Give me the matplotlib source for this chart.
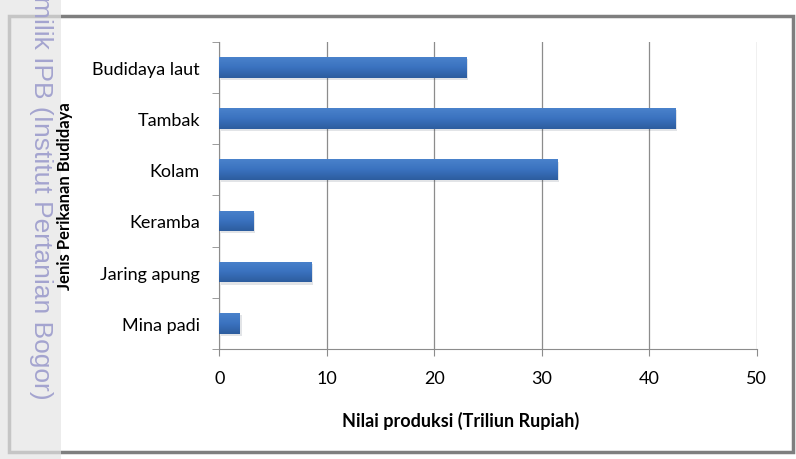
import numpy as np
import matplotlib.pyplot as plt
import matplotlib.patheffects as pe
from matplotlib.colors import LinearSegmentedColormap
from matplotlib.patches import Rectangle

kategori = ['Mina padi', 'Jaring apung', 'Keramba', 'Kolam', 'Tambak', 'Budidaya laut']
nilai = [1.95, 8.6, 3.2, 31.5, 42.5, 23.0]
xticks = [0, 10, 20, 30, 40, 50]

plt.rcParams['font.family'] = ['Lato', 'DejaVu Sans']

fig = plt.figure(figsize=(7.96, 4.6), dpi=100)
ax = fig.add_axes([0.2755, 0.2391, 0.675, 0.6681])

# bingkai dan pita watermark di kiri
fig.patches.append(Rectangle((0.011, 0.016), 0.985, 0.948, transform=fig.transFigure,
                             fill=False, edgecolor='#7f7f7f', linewidth=2.5, zorder=-2))
fig.patches.append(Rectangle((0, 0), 0.077, 1, transform=fig.transFigure,
                             facecolor='#e4e4e4', alpha=0.7, edgecolor='none', zorder=-1))
fig.text(0.052, 1.008, 'milik IPB (Institut Pertanian Bogor)', rotation=-90,
         family='Liberation Sans', fontsize=19, color='#a4a4cf', ha='center', va='top',
         zorder=-1)

y = np.arange(len(kategori))
bars = ax.barh(y, nilai, height=0.4, color='#3a72c0', zorder=3,
               path_effects=[pe.SimplePatchShadow(offset=(1, -1.5), alpha=0.12), pe.Normal()])

cmap = LinearSegmentedColormap.from_list('biru', ['#2d5d9e', '#3a72bf', '#4a82cb'])
grad = np.linspace(0, 1, 64).reshape(-1, 1)
for b in bars:
    x0, y0 = b.get_x(), b.get_y()
    w, h = b.get_width(), b.get_height()
    im = ax.imshow(grad, cmap=cmap, extent=[x0, x0 + w, y0, y0 + h], origin='lower',
                   aspect='auto', zorder=4)
    im.set_clip_path(b)

ax.set_xlim(0, 50)
ax.set_ylim(-0.5, len(kategori) - 0.5)
ax.set_xticks(xticks)
ax.set_yticks(y)
ax.set_yticklabels(kategori)
ax.set_yticks(np.arange(-0.5, len(kategori), 1), minor=True)
ax.tick_params(axis='y', which='major', length=0, pad=14, labelsize=13)
ax.tick_params(axis='y', which='minor', length=5, color='#8c8c8c')
ax.tick_params(axis='x', length=5, color='#8c8c8c', pad=10, labelsize=13)

ax.grid(axis='x', color='#8c8c8c', linewidth=0.9)
ax.set_axisbelow(True)
for s in ['top', 'right']:
    ax.spines[s].set_visible(False)
for s in ['left', 'bottom']:
    ax.spines[s].set_color('#8c8c8c')

ax.set_xlabel('Nilai produksi (Triliun Rupiah)', fontsize=13, fontweight='bold')
ax.xaxis.set_label_coords(0.45, -0.2)
ax.set_ylabel('Jenis Perikanan Budidaya', fontsize=12, fontweight='bold')
ax.yaxis.set_label_coords(-0.272, 0.5)

plt.savefig('out.png', dpi=100)
